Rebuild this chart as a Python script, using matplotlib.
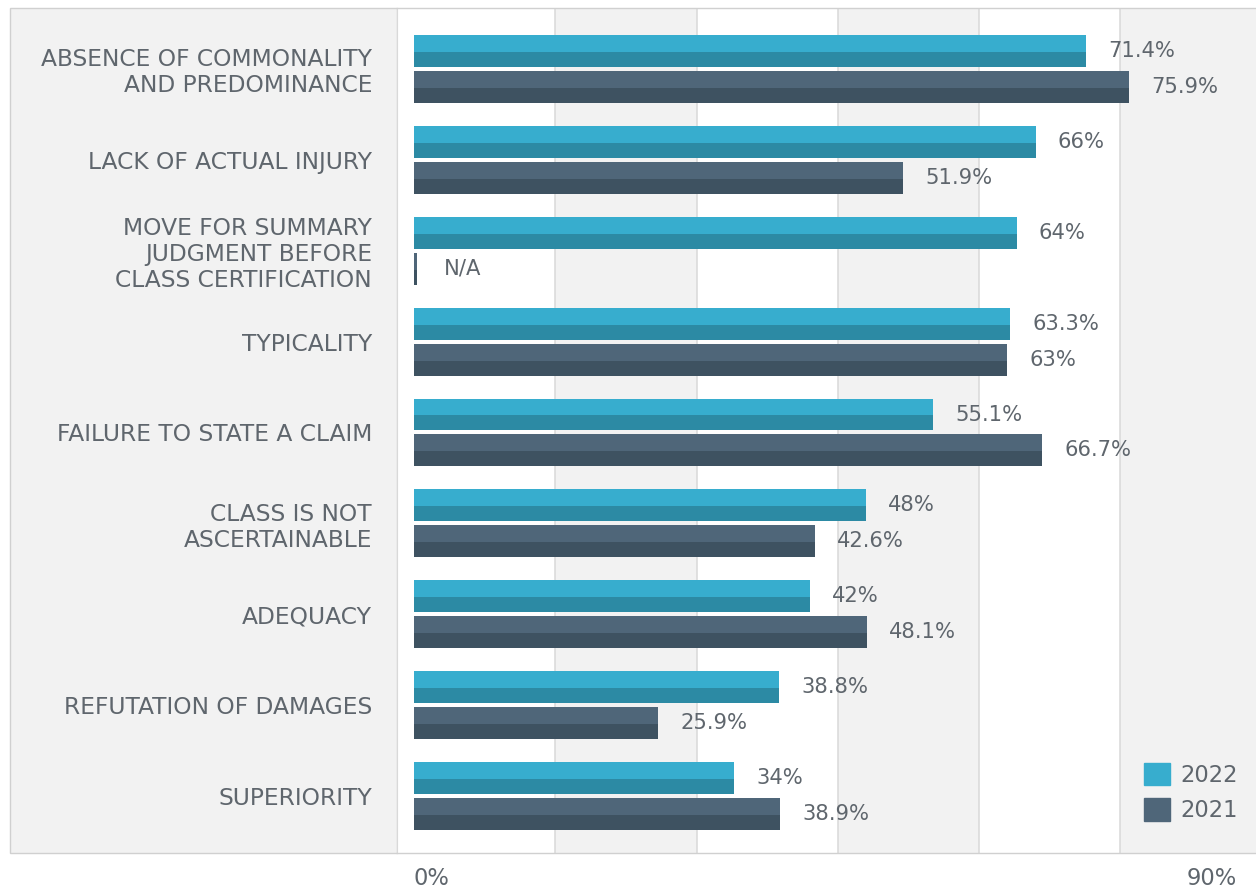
import numpy as np
import matplotlib.pyplot as plt
from matplotlib.patches import Rectangle, Patch

# data
categories = [
    "ABSENCE OF COMMONALITY\nAND PREDOMINANCE",
    "LACK OF ACTUAL INJURY",
    "MOVE FOR SUMMARY\nJUDGMENT BEFORE\nCLASS CERTIFICATION",
    "TYPICALITY",
    "FAILURE TO STATE A CLAIM",
    "CLASS IS NOT\nASCERTAINABLE",
    "ADEQUACY",
    "REFUTATION OF DAMAGES",
    "SUPERIORITY",
]
v2022 = [71.4, 66, 64, 63.3, 55.1, 48, 42, 38.8, 34]
v2021 = [75.9, 51.9, None, 63, 66.7, 42.6, 48.1, 25.9, 38.9]
series_names = ["2022", "2021"]
axis_labels = ["0%", "90%"]
na_label = "N/A"

# colours
c22_top, c22_bot = "#37adce", "#2c8aa4"
c21_top, c21_bot = "#4f6679", "#3e5261"
txt = "#5f666d"
band = "#f2f2f2"
grid = "#d9d9d9"
border = "#d0d0d0"

plt.rcParams["font.family"] = ["DejaVu Sans"]
FS_CAT = 16.8   # category labels
FS_VAL = 15.2   # value labels
FS = 16.3       # legend / axis ends

W, H = 1256, 888
fig = plt.figure(figsize=(W / 100, H / 100), dpi=100)


def fx(px):
    return px / W


def fy(py):
    return 1 - py / H


# grey label panel on the left (behind the axes and its tick labels)
fig.patches.append(Rectangle((fx(10), fy(853)), fx(397) - fx(10), fy(8) - fy(853),
                             transform=fig.transFigure, facecolor=band,
                             edgecolor=border, linewidth=1.0, zorder=-5))

ax = fig.add_axes([fx(397), fy(853), 1 - fx(397), fy(8) - fy(853)])
ax.set_zorder(1)
ax.set_xlim(-1.8, 89.4)
n = len(categories)
ax.set_ylim(n - 1 + 0.627, -0.671)

# alternating background bands + gridlines
for a, b in [(15, 30), (45, 60), (75, 100)]:
    ax.axvspan(a, b, color=band, zorder=0, lw=0)
for g in [15, 30, 45, 60, 75]:
    ax.axvline(g, color=grid, lw=1.1, zorder=0.5)

y = np.arange(n)
bh = 0.352
off = 0.198
split = 0.53  # share of the bar height in the lighter top tone


def two_tone(yc, w, top, bot):
    ht = bh * split
    hb = bh - ht
    ax.barh(yc - bh / 2 + ht / 2, w, height=ht, color=top, zorder=2)
    ax.barh(yc + bh / 2 - hb / 2, w, height=hb, color=bot, zorder=2)


for i in range(n):
    # 2022
    v = v2022[i]
    yc = y[i] - off
    two_tone(yc, v, c22_top, c22_bot)
    ax.annotate(f"{v:g}%", xy=(v, yc), xytext=(16, 0), textcoords="offset points",
                ha="left", va="center", fontsize=FS_VAL, color=txt)
    # 2021
    v = v2021[i]
    yc = y[i] + off
    if v is None:
        stub = 0.35
        two_tone(yc, stub, c21_top, c21_bot)
        ax.annotate(na_label, xy=(stub, yc), xytext=(19, 0), textcoords="offset points",
                    ha="left", va="center", fontsize=FS_VAL, color=txt)
    else:
        two_tone(yc, v, c21_top, c21_bot)
        ax.annotate(f"{v:g}%", xy=(v, yc), xytext=(16, 0), textcoords="offset points",
                    ha="left", va="center", fontsize=FS_VAL, color=txt)

ax.set_yticks(y)
ax.set_yticklabels(categories, fontsize=FS_CAT, color=txt, linespacing=1.15)
ax.tick_params(axis="y", length=0, pad=18)
ax.set_xticks([])

for s in ["top", "bottom"]:
    ax.spines[s].set_color(border)
    ax.spines[s].set_linewidth(1.0)
ax.spines["left"].set_color(grid)
ax.spines["right"].set_visible(False)

# axis end labels
ax.annotate(axis_labels[0], xy=(0, 0), xycoords=("data", "axes fraction"),
            xytext=(0, -18), textcoords="offset points", ha="left", va="center",
            fontsize=FS, color=txt, annotation_clip=False)
ax.annotate(axis_labels[1], xy=(1, 0), xycoords="axes fraction",
            xytext=(-14, -18), textcoords="offset points", ha="right", va="center",
            fontsize=FS, color=txt, annotation_clip=False)

handles = [Patch(color=c22_top), Patch(color=c21_top)]
ax.legend(handles, series_names, loc="upper left",
          bbox_to_anchor=(fx(1144), fy(763)), bbox_transform=fig.transFigure,
          frameon=False, fontsize=FS, labelcolor=txt, handlelength=1.15,
          handleheight=1.15, handletextpad=0.45, labelspacing=0.5,
          borderpad=0, borderaxespad=0)

fig.savefig("out.png", dpi=100)
